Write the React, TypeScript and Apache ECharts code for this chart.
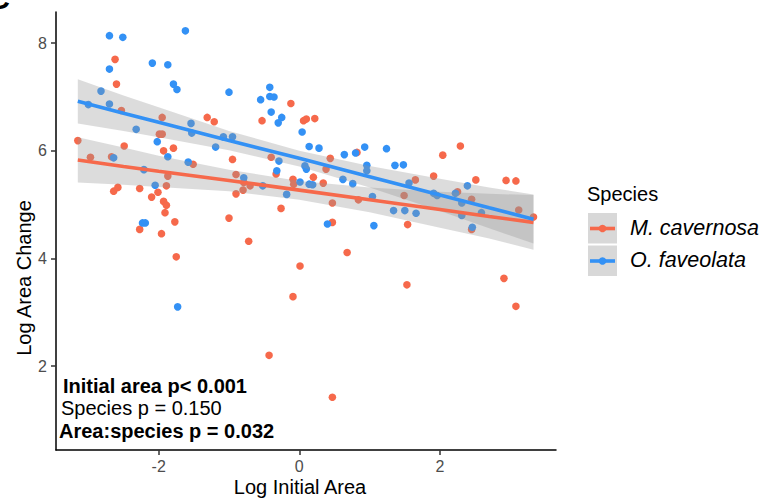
import React, { useEffect, useRef } from "react";
import * as echarts from "echarts";

// ---- data ----
const redPoints: number[][] = [
  [-2.62, 7.70], [-2.60, 7.24], [-2.53, 6.75], [-1.95, 6.62], [-1.99, 6.31], [-1.95, 6.31],
  [-1.31, 6.62], [-1.21, 6.54], [-3.15, 6.19], [-2.49, 6.09], [-1.93, 6.00], [-1.79, 6.05],
  [-2.97, 5.88], [-2.67, 5.89], [-1.51, 5.75], [-1.87, 5.53], [-1.89, 5.35], [-2.64, 5.25],
  [-2.58, 5.32], [-2.27, 5.30], [-2.10, 5.14], [-2.01, 5.23], [-1.93, 5.06], [-1.89, 4.99],
  [-1.91, 4.85], [-1.77, 4.68], [-2.27, 4.54], [-1.96, 4.46], [-1.00, 4.75], [-0.12, 6.88],
  [-0.53, 6.56], [0.06, 6.56], [0.10, 6.59], [0.22, 6.60], [-0.95, 5.84], [-0.40, 5.88],
  [0.44, 5.86], [0.38, 5.66], [0.82, 5.97], [-0.33, 5.57], [-0.90, 5.56], [-0.79, 5.41],
  [-0.70, 5.35], [-0.80, 5.27], [-0.90, 5.20], [-0.09, 5.47], [-0.08, 5.38], [0.20, 5.51],
  [0.34, 5.40], [0.47, 5.03], [0.84, 5.09], [-0.26, 4.93], [0.47, 4.67], [-0.72, 4.32],
  [2.29, 6.09], [2.04, 5.92], [1.65, 5.46], [1.91, 5.53], [2.51, 5.46], [2.94, 5.45],
  [3.08, 5.44], [1.49, 5.17], [2.25, 5.24], [2.45, 5.10], [3.12, 4.90], [3.33, 4.77],
  [1.54, 4.63], [2.45, 4.54], [-1.75, 4.03], [-0.09, 3.29], [-0.43, 2.20], [0.68, 4.11],
  [0.01, 3.86], [1.53, 3.51], [2.91, 3.63], [3.08, 3.11], [0.47, 1.42],
];

const bluePoints: number[][] = [
  [-2.70, 8.14], [-2.51, 8.11], [-1.62, 8.23], [-2.70, 7.52], [-2.09, 7.63], [-1.87, 7.60],
  [-1.79, 7.24], [-1.74, 7.14], [-2.82, 7.11], [-3.00, 6.86], [-2.70, 6.87], [-2.32, 6.40],
  [-1.54, 6.51], [-1.53, 6.33], [-2.02, 6.17], [-1.87, 5.89], [-2.64, 5.87], [-1.58, 5.79],
  [-1.19, 6.07], [-2.21, 5.65], [-2.05, 5.36], [-2.23, 4.66], [-2.19, 4.66], [-1.00, 7.09],
  [-0.42, 7.18], [-0.42, 7.01], [-0.36, 7.00], [-0.55, 6.95], [-0.40, 6.72], [-0.25, 6.62],
  [-0.30, 6.52], [0.04, 6.35], [0.14, 6.08], [0.28, 6.05], [0.64, 5.93], [0.80, 5.96],
  [0.93, 6.07], [1.24, 6.04], [-1.08, 6.26], [-0.95, 6.26], [-0.29, 5.81], [0.08, 5.72],
  [0.10, 5.66], [-0.32, 5.63], [-0.79, 5.50], [-0.52, 5.35], [-0.18, 5.19], [0.01, 5.42],
  [0.14, 5.38], [0.19, 5.37], [0.62, 5.47], [0.76, 5.39], [0.96, 5.73], [0.96, 5.63],
  [1.04, 5.15], [0.40, 4.64], [1.06, 4.61], [1.36, 5.73], [1.48, 5.74], [1.56, 5.40],
  [1.34, 4.89], [1.50, 4.89], [1.66, 4.84], [1.91, 5.21], [1.96, 5.17], [2.22, 5.21],
  [2.39, 5.35], [2.31, 5.03], [2.31, 4.80], [2.59, 4.85], [2.46, 4.58], [-1.73, 3.10],
];

// fitted lines and confidence bands
const fitX = [-3.15, -2.5, -2, -1, 0, 1, 2, 2.7, 3.33];
const redFit = [5.83, 5.71, 5.62, 5.45, 5.27, 5.09, 4.91, 4.78, 4.67];
const redUpper = [6.25, 6.06, 5.91, 5.65, 5.44, 5.32, 5.24, 5.2, 5.18];
const redLower = [5.41, 5.37, 5.33, 5.25, 5.09, 4.86, 4.57, 4.37, 4.16];
const blueFit = [6.92, 6.7, 6.53, 6.19, 5.86, 5.52, 5.18, 4.94, 4.73];
const blueUpper = [7.33, 7.03, 6.81, 6.37, 6.0, 5.72, 5.48, 5.32, 5.19];
const blueLower = [6.51, 6.37, 6.25, 6.01, 5.71, 5.32, 4.88, 4.56, 4.28];

const xTicks = [-2, 0, 2];
const yTicks = [2, 4, 6, 8];
const speciesNames = ["M. cavernosa", "O. faveolata"];
const annotations = ["Initial area p< 0.001", "Species p = 0.150", "Area:species p = 0.032"];

const RED = "#F6694B";
const BLUE = "#3391F5";
const BAND = "rgba(150,150,150,0.33)";
const FONT = "'Liberation Sans', Arial, Helvetica, sans-serif";

function bandSeries(upper: number[], lower: number[]) {
  return {
    type: "custom",
    silent: true,
    z: 3,
    data: [[0, 5]],
    renderItem: (_p: any, api: any) => {
      const pts: number[][] = [];
      for (let i = 0; i < fitX.length; i++) pts.push(api.coord([fitX[i], upper[i]]));
      for (let i = fitX.length - 1; i >= 0; i--) pts.push(api.coord([fitX[i], lower[i]]));
      return { type: "polygon", shape: { points: pts }, style: { fill: BAND } };
    },
  };
}

function lineSeries(fit: number[], color: string) {
  return {
    type: "line",
    silent: true,
    z: 4,
    symbol: "none",
    data: fitX.map((x, i) => [x, fit[i]]),
    lineStyle: { color, width: 3.6 },
  };
}

export default function App() {
  const ref = useRef<HTMLDivElement>(null);
  useEffect(() => {
    if (!ref.current) return;
    const chart = echarts.init(ref.current, undefined, { renderer: "svg" });
    const legendY = [213, 245.5];
    const legendGraphics: any[] = [];
    speciesNames.forEach((name, i) => {
      const color = i === 0 ? RED : BLUE;
      const top = legendY[i];
      const cy = top + 15.5;
      legendGraphics.push(
        { type: "rect", shape: { x: 588, y: top, width: 29, height: 30.5 }, style: { fill: "#d8d8d8" } },
        { type: "line", shape: { x1: 590, y1: cy, x2: 615, y2: cy }, style: { stroke: color, lineWidth: 3.6 } },
        { type: "circle", shape: { cx: 602.5, cy, r: 3.8 }, style: { fill: color } },
        {
          type: "text", x: 630, y: cy - 1,
          style: { text: name, font: `italic 21.5px ${FONT}`, fill: "#000", align: "left", verticalAlign: "middle", textAlign: "left", textVerticalAlign: "middle" },
        }
      );
    });
    const annY = [386, 408, 431];
    const annX = [63, 61, 59];
    const annBold = [true, false, true];
    const annGraphics = annotations.map((t, i) => ({
      type: "text", x: annX[i], y: annY[i],
      style: {
        text: t, font: `${annBold[i] ? "bold " : ""}20px ${FONT}`, fill: "#000",
        align: "left", verticalAlign: "middle", textAlign: "left", textVerticalAlign: "middle",
      },
    }));

    chart.setOption({
      animation: false,
      grid: { left: 56, right: 222, top: 12, bottom: 48, containLabel: false, outerBoundsMode: "none" },
      xAxis: {
        type: "value", min: -3.46, max: 3.65,
        axisLine: { show: true, onZero: false, lineStyle: { color: "#000", width: 1.5 } },
        axisTick: { show: true, length: 5, customValues: xTicks, lineStyle: { color: "#333", width: 1.5 } },
        axisLabel: { customValues: xTicks, color: "#4D4D4D", fontSize: 16, fontFamily: FONT, margin: 8 },
        splitLine: { show: false },
      },
      yAxis: {
        type: "value", min: 0.44, max: 8.58,
        axisLine: { show: true, onZero: false, lineStyle: { color: "#000", width: 1.5 } },
        axisTick: { show: true, length: 5, customValues: yTicks, lineStyle: { color: "#333", width: 1.5 } },
        axisLabel: { customValues: yTicks, color: "#4D4D4D", fontSize: 16, fontFamily: FONT, margin: 9 },
        splitLine: { show: false },
      },
      series: [
        { type: "scatter", z: 2, symbolSize: 7.6, data: redPoints, itemStyle: { color: RED, opacity: 1 } },
        { type: "scatter", z: 2, symbolSize: 7.6, data: bluePoints, itemStyle: { color: BLUE, opacity: 1 } },
        bandSeries(redUpper, redLower),
        bandSeries(blueUpper, blueLower),
        lineSeries(redFit, RED),
        lineSeries(blueFit, BLUE),
      ],
      graphic: [
        {
          type: "text", x: 10, y: 13,
          style: { text: "C", font: `bold 30px ${FONT}`, fill: "#000", align: "right", verticalAlign: "bottom", textAlign: "right", textVerticalAlign: "bottom" },
        },
        {
          type: "text", x: 24, y: 278, rotation: Math.PI / 2,
          style: { text: "Log Area Change", font: `20px ${FONT}`, fill: "#000", align: "center", verticalAlign: "middle", textAlign: "center", textVerticalAlign: "middle" },
        },
        {
          type: "text", x: 300, y: 487,
          style: { text: "Log Initial Area", font: `20px ${FONT}`, fill: "#000", align: "center", verticalAlign: "middle", textAlign: "center", textVerticalAlign: "middle" },
        },
        {
          type: "text", x: 587, y: 194,
          style: { text: "Species", font: `20px ${FONT}`, fill: "#000", align: "left", verticalAlign: "middle", textAlign: "left", textVerticalAlign: "middle" },
        },
        ...legendGraphics,
        ...annGraphics,
      ],
    });
    return () => chart.dispose();
  }, []);
  return (
    <div
      ref={ref}
      style={{ position: "fixed", left: 0, top: 0, width: 778, height: 498, background: "#fff" }}
    />
  );
}
